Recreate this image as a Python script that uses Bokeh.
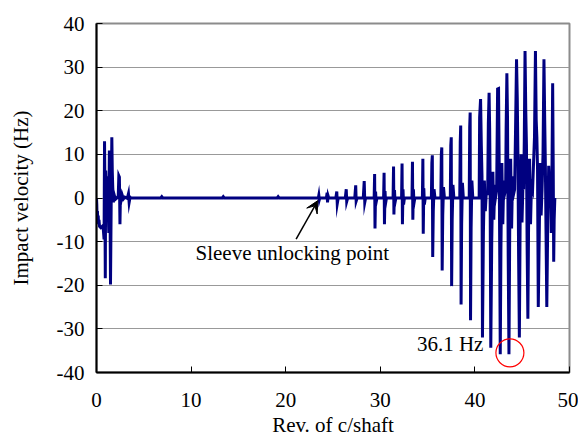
from bokeh.plotting import figure
from bokeh.models import Range1d, FixedTicker, Label, Arrow, VeeHead, CustomJSTickFormatter
from bokeh.embed import file_html
from bokeh.resources import INLINE

# ---- data ----
rev_a = [
    0.0, 0.03, 0.06, 0.1, 0.14, 0.18, 0.22, 0.26,
    0.32, 0.45, 0.6, 0.72, 0.8, 0.85, 0.88, 0.93,
    0.97, 1.02, 1.08, 1.15, 1.22, 1.3, 1.36, 1.42,
    1.48, 1.55, 1.62, 1.67, 1.72, 1.8, 1.9, 2.0,
    2.15, 2.3, 2.36, 2.42, 2.48, 2.53, 2.6, 2.7,
    2.85, 3.0, 3.2, 3.3, 3.38, 3.45, 3.55, 3.65,
]
vel_a = [
    0.0, -1.5, -4.5, -3.0, -5.5, -4.0, -6.0, -5.0,
    -6.5, -6.8, -6.5, -7.2, -9.5, 13.0, 4.5, -18.4,
    6.3, 3.0, -3.0, 5.0, -1.0, -8.0, 10.9, 2.0,
    -19.8, -2.0, 13.9, 6.0, 2.4, -1.0, 0.5, -0.3,
    0.0, 0.5, 5.1, 4.8, -6.0, 0.6, -0.5, 0.8,
    -0.2, 0.2, 0.0, 0.3, 1.0, -1.0, 0.2, 0.0,
]

rev_b = [3.7, 6.8, 6.9, 7.0, 13.3, 13.4, 13.5, 19.1, 19.2, 19.3]
vel_b = [0.0, 0.0, 0.3, 0.0, 0.0, 0.3, 0.0, 0.0, 0.3, 0.0]

rev_c = [23.3, 23.45, 23.5, 23.55, 23.6,
         24.3, 24.38, 24.42, 24.48, 24.55,
         25.3, 25.4, 25.45, 25.55,
         26.3, 26.4, 26.45, 26.55,
         27.3, 27.4, 27.45, 27.55,
         28.2, 28.3, 28.36, 28.45]
vel_c = [0, 0, 0.6, -0.4, 0,
         0, 1.2, -1.0, 0.5, 0,
         0, 1.5, -1.3, 0,
         0, 2.0, -0.8, 0,
         0, 2.9, -0.7, 0,
         0, 3.9, -1.0, 0]

rev_d = [
    29.35, 29.4, 29.44, 29.5, 29.56, 29.65,
    30.35, 30.4, 30.44, 30.5, 30.56, 30.65,
    31.35, 31.4, 31.44, 31.5, 31.56, 31.65,
    32.25, 32.3, 32.34, 32.4, 32.46, 32.55,
    33.35, 33.4, 33.44, 33.5, 33.56, 33.65,
    34.45, 34.5, 34.54, 34.6, 34.66, 34.75,
    35.4, 35.45, 35.5, 35.54, 35.6, 35.68, 35.78,
    36.4, 36.45, 36.5, 36.54, 36.6, 36.68, 36.78,
    37.4, 37.45, 37.5, 37.54, 37.6, 37.68, 37.78,
    38.4, 38.45, 38.5, 38.54, 38.6, 38.68, 38.78,
    39.4, 39.45, 39.5, 39.54, 39.6, 39.68, 39.78,
]
vel_d = [
    0, 5.5, -7.0, 1.5, -1.0, 0,
    0, 5.8, -6.0, 1.6, -1.2, 0,
    0, 7.2, -3.8, 1.8, -1.0, 0,
    0, 7.9, -6.0, 2.0, -1.5, 0,
    0, 8.3, -5.0, 2.0, -1.2, 0,
    0, 9.0, -8.2, 2.2, -1.5, 0,
    0, 8.0, 9.8, -13.5, -3.0, 2.0, 0,
    0, 10.0, 11.6, -16.6, -4.0, 2.5, 0,
    0, 12.0, 13.9, -20.2, -5.0, 3.0, 0,
    0, 12.8, 16.6, -24.4, -6.0, 3.5, 0,
    0, 16.2, 19.6, -28.0, -7.0, 4.0, 0,
]

rev_e = [
    40.45, 40.5, 40.6, 40.68, 40.75, 40.8, 40.9, 41.0, 41.1, 41.2,
    41.35, 41.42, 41.5, 41.56, 41.6, 41.68, 41.78, 41.9, 42.0, 42.1, 42.2,
    42.3, 42.4, 42.5, 42.56, 42.62, 42.68, 42.75, 42.85, 42.95, 43.05, 43.15,
    43.25, 43.3, 43.38, 43.45, 43.52, 43.6, 43.68, 43.78, 43.88, 43.98, 44.1,
    44.2, 44.3, 44.4, 44.48, 44.55, 44.62, 44.7, 44.78, 44.88, 44.98, 45.08,
    45.15, 45.22, 45.3, 45.38, 45.45, 45.52, 45.6, 45.68, 45.78, 45.88, 45.98,
    46.1, 46.2, 46.3, 46.4, 46.48, 46.55, 46.62, 46.7, 46.8, 46.9, 47.0,
    47.1, 47.2, 47.3, 47.38, 47.45, 47.52, 47.6, 47.7, 47.8, 47.9, 48.0,
    48.08, 48.15, 48.22, 48.28, 48.33, 48.38, 48.45,
]
vel_e = [
    0, 18.5, 22.7, 12.0, 5.0, -32.0, -8.0, 4.0, -3.0, 1.0,
    1.0, 17.0, 24.1, 16.0, 6.0, -34.3, -10.0, 6.0, -5.0, 3.0, 0.5,
    2.0, 25.0, 25.1, 10.0, -10.6, -35.8, -12.0, 8.0, -6.0, 4.0, 1.0,
    2.0, 15.5, 28.6, 18.0, -13.3, -35.8, -8.0, 9.0, -7.0, 5.0, 1.0,
    2.0, 16.2, 31.8, 22.8, 9.3, -13.3, -32.0, -6.0, 10.0, -5.6, 3.0,
    2.0, 13.2, 33.7, 19.7, 12.0, -11.0, -27.7, -5.0, 9.0, -6.0, 3.0,
    2.0, 8.0, 14.0, 33.7, 17.8, 13.9, 6.7, -25.0, -9.0, 8.0, -4.0,
    2.0, 10.0, 31.8, 17.8, 7.4, -8.2, -25.0, -6.0, 7.4, 2.0, 6.0,
    -8.0, 7.4, 26.3, 7.0, -14.6, -5.0, 0.0,
]

x_ticks = [0, 10, 20, 30, 40, 50]
y_ticks = [-40, -30, -20, -10, 0, 10, 20, 30, 40]

rev = rev_a + rev_b + rev_c + rev_d + rev_e
vel = vel_a + vel_b + vel_c + vel_d + vel_e

SERIF = "Liberation Serif"

p = figure(width=578, height=439, output_backend="svg", toolbar_location=None,
           x_range=Range1d(0, 50), y_range=Range1d(-40, 40))
p.min_border_left = 96
p.min_border_right = 9
p.min_border_top = 23
p.min_border_bottom = 67
p.background_fill_color = "white"
p.border_fill_color = "white"
p.outline_line_color = "#8c8c8c"
p.outline_line_width = 2

p.xgrid.grid_line_color = None
p.ygrid.grid_line_color = "#999999"
p.ygrid.grid_line_width = 1

p.xaxis.ticker = FixedTicker(ticks=x_ticks)
p.yaxis.ticker = FixedTicker(ticks=y_ticks)
fmt = CustomJSTickFormatter(code="return String(tick);")
for ax in (p.xaxis, p.yaxis):
    ax.formatter = fmt
    ax.axis_line_color = "black"
    ax.axis_line_width = 2
    ax.major_tick_in = 6
    ax.major_tick_out = 0
    ax.major_tick_line_color = "black"
    ax.minor_tick_line_color = None
    ax.major_label_text_font = SERIF
    ax.major_label_text_font_size = "21px"
    ax.major_label_text_color = "black"
    ax.axis_label_text_font = SERIF
    ax.axis_label_text_font_size = "21px"
    ax.axis_label_text_font_style = "normal"
    ax.axis_label_text_color = "black"

p.xaxis.axis_label = "Rev. of c/shaft"
p.yaxis.axis_label = "Impact velocity (Hz)"
p.xaxis.major_label_standoff = 20
p.xaxis.axis_label_standoff = 3
p.yaxis.major_label_standoff = 12
p.yaxis.axis_label_standoff = 21

p.line(rev, vel, line_color="#000080", line_width=3, line_join="miter")

p.add_layout(Arrow(end=VeeHead(size=12, fill_color="black", line_color="black"),
                   x_start=21.1, y_start=-9.4, x_end=23.4, y_end=-0.6,
                   line_color="black", line_width=1.5))
p.add_layout(Label(x=20.7, y=-12.6, text="Sleeve unlocking point", text_align="center",
                   text_baseline="middle", text_font=SERIF, text_font_size="21px",
                   text_color="black"))
p.add_layout(Label(x=40.9, y=-33.5, text="36.1 Hz", text_align="right",
                   text_baseline="middle", text_font=SERIF, text_font_size="21px",
                   text_color="black"))
p.scatter([43.7], [-35.5], size=28, marker="circle", fill_color=None,
          line_color="red", line_width=1.2)

open("out.html", "w").write(file_html(p, INLINE))
